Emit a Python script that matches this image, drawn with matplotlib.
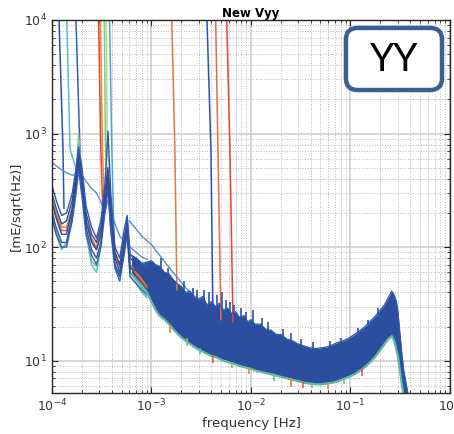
import matplotlib
matplotlib.use("Agg")
from matplotlib import pyplot as plt
from matplotlib.patches import FancyBboxPatch

# ---- data ----
# low-frequency region: individual spectra (1e-4 .. 1e-3 Hz)
lf_freq = [1.0e-4, 1.1e-4, 1.25e-4, 1.4e-4, 1.6e-4, 1.75e-4, 1.85e-4, 2.0e-4, 2.2e-4,
           2.5e-4, 2.8e-4, 3.1e-4, 3.4e-4, 3.65e-4, 3.9e-4, 4.3e-4, 4.8e-4, 5.3e-4,
           5.7e-4, 6.1e-4, 7.0e-4, 8.0e-4, 9.0e-4]
lf_light = [560, 520, 480, 450, 430, 440, 470, 430, 380, 330, 300, 250, 200, 260, 210,
            160, 125, 115, 120, 100, 90, 82, 78]
lf_green = [220, 140, 100, 105, 200, 450, 1000, 400, 140, 75, 68, 110, 260, 420, 150,
            70, 58, 100, 160, 60, 52, 44, 38]
lf_teal = [190, 130, 95, 110, 180, 380, 800, 350, 130, 70, 60, 100, 220, 350, 140,
           65, 56, 90, 140, 55, 48, 40, 36]
lf_orange = [270, 200, 150, 150, 230, 400, 650, 400, 180, 120, 100, 140, 280, 420, 200,
             90, 70, 110, 160, 70, 60, 52, 45]
lf_red = [240, 190, 140, 140, 210, 380, 620, 380, 170, 115, 95, 130, 260, 400, 190,
          85, 66, 105, 150, 68, 58, 50, 44]
lf_blue1 = [300, 220, 160, 170, 260, 450, 700, 450, 200, 130, 110, 150, 300, 500, 250,
            90, 70, 120, 170, 80, 72, 66, 60]
lf_blue2 = [250, 180, 130, 130, 220, 400, 600, 380, 170, 110, 95, 130, 250, 450, 200,
            80, 60, 100, 150, 65, 62, 56, 50]
lf_blue3 = [200, 150, 110, 110, 190, 350, 550, 320, 150, 95, 80, 110, 220, 380, 160,
            70, 55, 90, 140, 60, 52, 46, 42]
lf_blue4 = [350, 260, 190, 200, 300, 500, 760, 500, 230, 150, 120, 170, 350, 1050, 300,
            100, 80, 140, 190, 85, 80, 72, 66]
lf_blue5 = [180, 130, 100, 100, 170, 300, 480, 280, 130, 85, 70, 100, 200, 320, 140,
            65, 50, 85, 130, 55, 48, 42, 38]

# lighter blue traces sitting above the band
lb_freq = [6.0e-4, 8.0e-4, 1.0e-3, 1.3e-3, 1.7e-3, 2.2e-3, 2.8e-3]
lb_vals = [170, 125, 105, 78, 58, 44, 36]

# dense band of spectra (upper / lower envelope)
band_freq = [6.3e-4, 7.0e-4, 8.0e-4, 9.0e-4, 1.0e-3, 1.1e-3, 1.2e-3, 1.35e-3, 1.5e-3,
             1.65e-3, 1.8e-3, 2.0e-3, 2.2e-3, 2.45e-3, 2.7e-3, 3.0e-3, 3.3e-3, 3.6e-3,
             4.0e-3, 4.4e-3, 4.8e-3, 5.3e-3, 5.8e-3, 6.4e-3, 7.0e-3, 7.7e-3, 8.5e-3,
             9.3e-3, 1.0e-2, 1.1e-2, 1.25e-2, 1.4e-2, 1.6e-2, 1.8e-2, 2.0e-2, 2.3e-2,
             2.6e-2, 3.0e-2, 3.4e-2, 3.9e-2, 4.5e-2, 5.1e-2, 5.8e-2, 6.6e-2, 7.5e-2,
             8.5e-2, 9.6e-2, 0.11, 0.125, 0.14, 0.16, 0.18, 0.20, 0.22, 0.24, 0.26,
             0.275, 0.29, 0.30, 0.315, 0.33, 0.345, 0.36, 0.38, 0.40]
band_hi = [85, 80, 72, 74, 76, 70, 68, 60, 58, 52, 48, 45, 40, 41, 36, 35, 37, 31, 33,
           30, 32, 28, 29, 26, 27, 24, 25, 22, 23, 21, 21, 19, 18.5, 17, 17, 15.5, 15,
           14, 13.5, 13, 12.8, 13, 13.2, 13.8, 14.5, 15, 15.8, 17, 18.5, 20, 22.5, 25,
           28, 31, 36, 41, 38, 33, 27, 17, 11, 8, 6.5, 5, 3.5]
band_lo = [58, 52, 46, 40, 33, 28, 25, 23, 21, 19, 17.5, 16, 15, 14, 13.2, 12.5, 12,
           11.5, 11, 10.8, 10.4, 10, 9.8, 9.5, 9.3, 9, 8.8, 8.6, 8.5, 8.2, 8, 7.8, 7.6,
           7.4, 7.2, 7, 6.8, 6.6, 6.4, 6.3, 6.2, 6.2, 6.3, 6.4, 6.6, 6.9, 7.2, 7.6, 8.2,
           8.8, 9.8, 11, 12.5, 14, 15.5, 16.5, 15, 12.5, 11, 8, 6, 4.8, 4, 3, 2]

# upward blue spikes on top of the band
up_freq = [1.25e-3, 1.45e-3, 2.1e-3, 2.6e-3, 2.9e-3, 3.4e-3, 3.8e-3, 4.6e-3, 5.1e-3,
           5.6e-3, 6.1e-3, 6.8e-3, 8.0e-3, 9.0e-3, 1.05e-2, 1.3e-2, 1.5e-2, 2.1e-2,
           2.5e-2, 3.2e-2, 4.2e-2, 6.2e-2, 8.0e-2, 0.12, 0.15, 0.19]
up_top = [80, 66, 50, 44, 42, 42, 40, 38, 40, 34, 33, 31, 29, 27, 28, 24, 22, 19,
          17.5, 15.5, 14.5, 15, 16, 19.5, 23, 29]
up_base = [65, 55, 42, 36, 34, 33, 31, 30, 28, 28, 26, 26, 24, 22, 22, 20, 18.5, 16.5,
           15, 13.5, 12.8, 13.2, 14.3, 17.5, 21, 26]

# downward spikes below the band (orange/green fringes)
spike_freq = [1.55e-3, 2.3e-3, 3.1e-3, 4.2e-3, 6.5e-3, 9.5e-3, 1.7e-2, 2.55e-2, 3.3e-2,
              4.1e-2, 6.0e-2, 8.7e-2, 0.13]
spike_top = [21, 16, 13, 11, 9.8, 8.6, 7.6, 7.0, 6.6, 6.4, 6.4, 7.0, 8.6]
spike_low = [17.5, 13.5, 11.4, 9.6, 8.6, 7.6, 6.6, 5.9, 5.8, 5.7, 5.6, 6.2, 7.4]
spike_colors = ["#d98a3a", "#7cc07c", "#4fb8c0", "#e0603a", "#7cc07c", "#d98a3a",
                "#7cc07c", "#d98a3a", "#e0603a", "#7cc07c", "#d98a3a", "#7cc07c",
                "#e0603a"]

# spectra that blow up at low frequency (steep lines)
steep_freq = [
    [1.15e-4, 1.29e-4, 1.32e-4],
    [1.38e-4, 1.52e-4, 1.74e-4],
    [1.70e-4, 1.91e-4, 2.00e-4],
    [2.90e-4, 3.10e-4, 3.25e-4],
    [3.03e-4, 3.22e-4, 3.35e-4],
    [3.33e-4, 3.45e-4, 3.60e-4],
    [3.49e-4, 3.60e-4, 3.75e-4],
    [3.74e-4, 4.00e-4, 4.20e-4],
    [1.57e-3, 1.72e-3, 1.80e-3],
    [3.53e-3, 3.96e-3, 4.14e-3],
    [4.36e-3, 4.66e-3, 4.99e-3],
    [5.60e-3, 6.15e-3, 6.60e-3],
]
steep_vals = [
    [2e4, 720, 220],
    [2e4, 720, 500],
    [2e4, 720, 300],
    [2e4, 720, 200],
    [2e4, 720, 250],
    [2e4, 720, 400],
    [2e4, 720, 500],
    [2e4, 720, 120],
    [2e4, 720, 42],
    [2e4, 720, 30],
    [2e4, 720, 23],
    [2e4, 720, 22],
]
steep_colors = ["#3050b0", "#5cc0c8", "#3a5cb8", "#e8442e", "#e09040", "#8cc86c",
                "#a8d89a", "#4aa8d0", "#e07a3a", "#3050b0", "#ea6a40", "#e8442e"]

BLUE = "#2b4f9e"

fig = plt.figure(figsize=(4.54, 4.34), dpi=100)
ax = fig.add_axes([0.1145, 0.0945, 0.8765, 0.8595])

# steep lines first (behind)
for f, v, c in zip(steep_freq, steep_vals, steep_colors):
    ax.plot(f, v, color=c, lw=1.1)

# low-frequency spectra
lf_sets = [(lf_light, "#5a8fd6"), (lf_green, "#7cc88a"), (lf_teal, "#58c0b0"),
           (lf_orange, "#e0883a"), (lf_red, "#e0503a"), (lf_blue5, "#3a62b8"),
           (lf_blue3, "#2f55a8"), (lf_blue2, BLUE), (lf_blue1, "#2a4c9a"),
           (lf_blue4, "#3358ae")]
for vals, c in lf_sets:
    ax.plot(lf_freq, vals, color=c, lw=1.0)

ax.plot(lb_freq, lb_vals, color="#4f8ed0", lw=1.0)

# dense band
ax.plot(band_freq, band_lo, color="#62b8a4", lw=1.6)
ax.vlines(spike_freq, spike_low, spike_top, colors=spike_colors, lw=1.2)
ax.fill_between(band_freq, band_lo, band_hi, color=BLUE, lw=0)
ax.plot(band_freq, band_hi, color="#2f56a8", lw=0.9)
ax.vlines(up_freq, up_base, up_top, colors="#2d52a4", lw=1.2)

ax.set_xscale("log")
ax.set_yscale("log")
ax.set_xlim(1e-4, 1)
ax.set_ylim(5.2, 1e4)

ax.grid(True, which="major", color="#cfcfcf", lw=1.2, ls="-")
ax.grid(True, which="minor", color="#b8b8b8", lw=0.7, ls=":")
ax.set_axisbelow(True)
ax.tick_params(which="both", direction="in", top=True, right=True, color="#262626",
               labelsize=9, labelcolor="#333333")
ax.tick_params(which="major", length=4)
ax.tick_params(which="minor", length=2)
for s in ax.spines.values():
    s.set_color("#262626")
    s.set_linewidth(1.0)

ax.set_title("New Vyy", fontsize=8.5, fontweight="bold", pad=2)
ax.set_xlabel("frequency [Hz]", fontsize=9.5, color="#333333", labelpad=2)
ax.set_ylabel("[mE/sqrt(Hz)]", fontsize=9.5, color="#333333", labelpad=1)

# "YY" label box
box = FancyBboxPatch((0.762, 0.7926), 0.2115, 0.143, transform=fig.transFigure,
                     boxstyle="round,pad=0,rounding_size=0.026",
                     facecolor="white", edgecolor="#3a6090", lw=3.2, zorder=10)
fig.patches.append(box)
fig.text(0.868, 0.862, "YY", fontsize=28, family="Lato", ha="center", va="center",
         color="black", zorder=11)

fig.savefig("out.png", dpi=100)
